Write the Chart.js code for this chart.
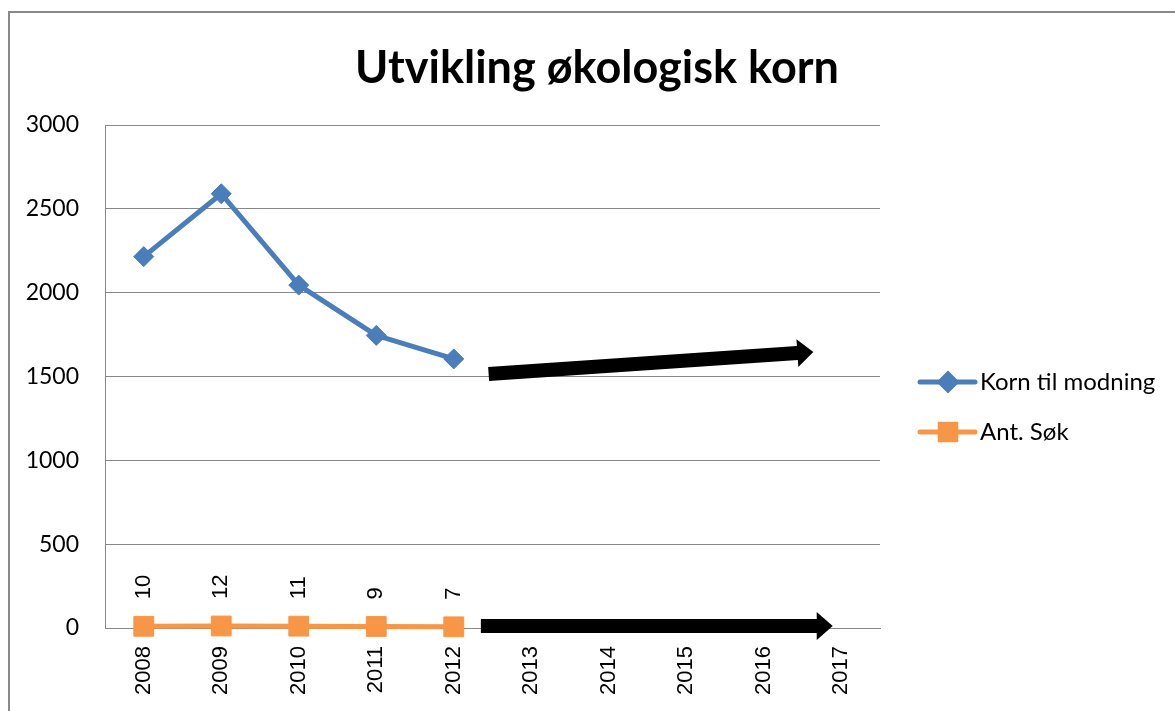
<!DOCTYPE html>
<html>
<head>
<meta charset="utf-8">
<script src="https://cdn.jsdelivr.net/npm/chart.js@4/dist/chart.umd.min.js"></script>
<style>
  html, body { margin: 0; padding: 0; background: #fff; overflow: hidden; }
  #marco {
    position: absolute; left: 8px; top: 11px;
    width: 1174px; height: 720px;
    border: 2px solid #898989; background: #fff;
  }
</style>
</head>
<body>
<div id="marco"><canvas id="grafico"></canvas></div>
<script>
const tituloGrafico = "Utvikling økologisk korn";
const anios = ["2008", "2009", "2010", "2011", "2012", "2013", "2014", "2015", "2016", "2017"];
const nombresSeries = ["Korn til modning", "Ant. Søk"];
const kornTilModning = [2215, 2590, 2045, 1745, 1605];
const antSok = [10, 12, 11, 9, 7];

// flechas de tendencia en unidades del grafico: [indice del año, valor]
const flechaKorn = [[4.45, 1515], [8.64, 1646]];
const flechaSok = [[4.35, 12], [8.89, 12]];

const azul = "#4A7EBB";
const naranja = "#F79646";
const gris = "#878787";

// titulo centrado sobre todo el lienzo
const pluginTitulo = {
  id: "titulo",
  afterDraw(chart) {
    const ctx = chart.ctx;
    ctx.save();
    ctx.font = "bold 45px Lato";
    ctx.fillStyle = "#000";
    ctx.textAlign = "center";
    ctx.textBaseline = "alphabetic";
    ctx.fillText(tituloGrafico, chart.width / 2, 70);
    ctx.restore();
  },
};

// leyenda a la derecha: linea + marcador + texto
const pluginLeyenda = {
  id: "leyenda",
  afterDraw(chart) {
    const { ctx, chartArea } = chart;
    const x0 = chartArea.right + 40;
    ctx.save();
    chart.data.datasets.forEach((ds, i) => {
      const y = 369 + i * 50;
      ctx.strokeStyle = ds.borderColor;
      ctx.fillStyle = ds.borderColor;
      ctx.lineWidth = 5;
      ctx.lineCap = "round";
      ctx.beginPath();
      ctx.moveTo(x0, y);
      ctx.lineTo(x0 + 55, y);
      ctx.stroke();
      Chart.helpers.drawPoint(
        ctx,
        { pointStyle: ds.pointStyle, radius: i === 0 ? 8 : 11, rotation: 0, borderWidth: 1 },
        x0 + 28,
        y
      );
      ctx.fillStyle = "#000";
      ctx.font = "24px Lato";
      ctx.textAlign = "left";
      ctx.textBaseline = "middle";
      ctx.fillText(ds.label, x0 + 60, y);
    });
    ctx.restore();
  },
};

// etiquetas de valor verticales sobre la serie Ant. Søk
const pluginEtiquetas = {
  id: "etiquetas",
  afterDatasetsDraw(chart) {
    const ctx = chart.ctx;
    const meta = chart.getDatasetMeta(1);
    ctx.save();
    ctx.fillStyle = "#000";
    ctx.font = "22px 'Liberation Sans'";
    ctx.textAlign = "left";
    ctx.textBaseline = "middle";
    meta.data.forEach((pt, i) => {
      ctx.save();
      ctx.translate(pt.x, pt.y - 27);
      ctx.rotate(-Math.PI / 2);
      ctx.fillText(String(antSok[i]), 0, 0);
      ctx.restore();
    });
    ctx.restore();
  },
};

const dibujarFlecha = (ctx, x1, y1, x2, y2) => {
  const largo = Math.hypot(x2 - x1, y2 - y1);
  const dx = (x2 - x1) / largo;
  const dy = (y2 - y1) / largo;
  const nx = -dy;
  const ny = dx;
  const grosor = 7;
  const alaPunta = 14;
  const largoPunta = 16;
  const bx = x2 - dx * largoPunta;
  const by = y2 - dy * largoPunta;
  ctx.beginPath();
  ctx.moveTo(x1 + nx * grosor, y1 + ny * grosor);
  ctx.lineTo(bx + nx * grosor, by + ny * grosor);
  ctx.lineTo(bx + nx * alaPunta, by + ny * alaPunta);
  ctx.lineTo(x2, y2);
  ctx.lineTo(bx - nx * alaPunta, by - ny * alaPunta);
  ctx.lineTo(bx - nx * grosor, by - ny * grosor);
  ctx.lineTo(x1 - nx * grosor, y1 - ny * grosor);
  ctx.closePath();
  ctx.fill();
};

const pluginFlechas = {
  id: "flechas",
  afterDatasetsDraw(chart) {
    const { ctx, scales } = chart;
    ctx.save();
    ctx.fillStyle = "#000";
    [flechaKorn, flechaSok].forEach(([desde, hasta]) => {
      dibujarFlecha(
        ctx,
        scales.x.getPixelForValue(desde[0]),
        scales.y.getPixelForValue(desde[1]),
        scales.x.getPixelForValue(hasta[0]),
        scales.y.getPixelForValue(hasta[1])
      );
    });
    ctx.restore();
  },
};

const data = {
  labels: anios,
  datasets: [
    {
      label: nombresSeries[0],
      data: kornTilModning,
      borderColor: azul,
      backgroundColor: azul,
      borderWidth: 5,
      borderJoinStyle: "round",
      borderCapStyle: "round",
      pointStyle: "rectRot",
      pointRadius: 10,
      pointHoverRadius: 10,
      pointBorderWidth: 1,
      tension: 0,
      clip: false,
    },
    {
      label: nombresSeries[1],
      data: antSok,
      borderColor: naranja,
      backgroundColor: naranja,
      borderWidth: 5,
      borderJoinStyle: "round",
      borderCapStyle: "round",
      pointStyle: "rect",
      pointRadius: 14,
      pointHoverRadius: 14,
      pointBorderWidth: 1,
      tension: 0,
      clip: false,
    },
  ],
};

const config = {
  type: "line",
  data,
  options: {
    responsive: true,
    maintainAspectRatio: false,
    animation: false,
    layout: { padding: { top: 112, right: 304, bottom: 0, left: 0 } },
    plugins: {
      legend: { display: false },
      title: { display: false },
      tooltip: { enabled: false },
    },
    scales: {
      x: {
        offset: true,
        grid: { display: false, drawTicks: false },
        border: { display: true, color: gris, width: 1 },
        afterFit: (scale) => {
          scale.height = 105;
        },
        ticks: {
          autoSkip: false,
          maxRotation: 90,
          minRotation: 90,
          padding: 18,
          color: "#000",
          font: { family: "'Liberation Sans'", size: 22 },
        },
      },
      y: {
        min: 0,
        max: 3000,
        afterFit: (scale) => {
          scale.width = 95;
        },
        grid: { color: gris, lineWidth: 1, drawTicks: false },
        border: { display: true, color: gris, width: 1 },
        ticks: {
          stepSize: 500,
          padding: 26,
          color: "#000",
          font: { family: "Lato", size: 23 },
          callback: (valor) => String(valor),
        },
      },
    },
  },
  plugins: [pluginTitulo, pluginLeyenda, pluginEtiquetas, pluginFlechas],
};

const miGrafico = new Chart(document.getElementById("grafico"), config);
</script>
</body>
</html>
